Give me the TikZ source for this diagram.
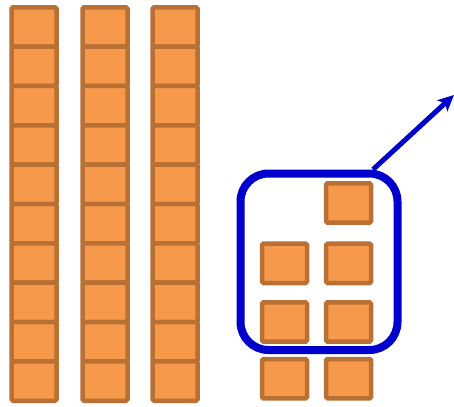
\documentclass[tikz,border=0pt]{standalone}
\usetikzlibrary{arrows.meta,calc}
\definecolor{cubefill}{HTML}{F7994A}
\definecolor{cubeline}{HTML}{B97034}
\definecolor{grpblue}{HTML}{0000CC}
\begin{document}
\begin{tikzpicture}[x=1pt,y=-1pt,
  cube/.style={draw=cubeline,fill=cubefill,line width=4.5pt,inner sep=0pt,
    minimum width=45pt,minimum height=39.4pt,rounded corners=1.5pt},
  grpbox/.style={draw=grpblue,line width=8pt,inner sep=0pt,
    minimum width=157pt,minimum height=176.5pt,rounded corners=28pt},
  pointer/.style={draw=grpblue,line width=5pt,-{Stealth[length=16pt,width=15pt,inset=4pt]}}]
\useasboundingbox (0,0) rectangle (454,406);
\foreach \c/\x in {1/34,2/105,3/175}{
  \foreach \r in {0,...,9}{
    \node[cube] (c\c-\r) at (\x,{7.3+19.7+39.34*\r}) {};
  }
}
\node[cube] (l1) at (348.6,203) {};
\node[cube] (l2) at (284.5,263.3) {};
\node[cube] (l3) at (348.6,263.3) {};
\node[cube] (l4) at (284.5,322) {};
\node[cube] (l5) at (348.6,322) {};
\node[cube] (l6) at (284.5,378.7) {};
\node[cube] (l7) at (348.6,378.7) {};
\node[grpbox] (grp) at (319,261.75) {};
\coordinate (tip) at (454,95);
\draw[pointer] ($(grp.north)+(54,0)$) -- (tip);
\end{tikzpicture}
\end{document}
